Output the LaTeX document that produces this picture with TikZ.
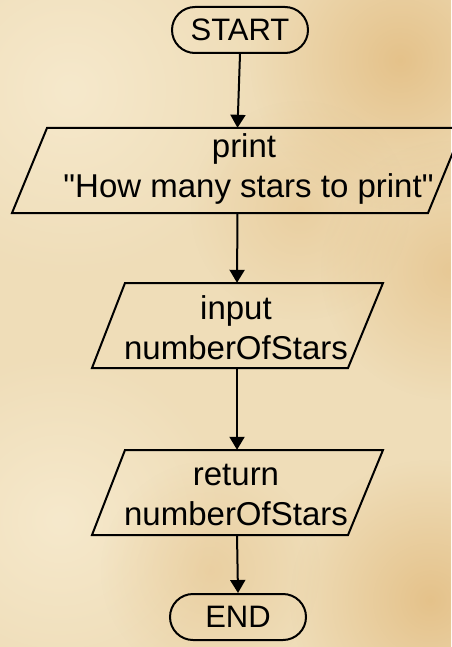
\documentclass[tikz,border=0pt]{standalone}
\usepackage{fontspec}
\setmainfont{Liberation Sans}
\usetikzlibrary{calc,arrows.meta,fadings}
\definecolor{paper}{RGB}{239,221,184}
\definecolor{paperlight}{RGB}{246,233,204}
\definecolor{blob}{RGB}{222,176,108}
\tikzfading[name=softblob, inner color=transparent!0, outer color=transparent!100]
\tikzset{
  flowline/.style={line width=2pt, draw=black},
  arr/.style={flowline, -{Triangle[length=13pt,width=15pt]}},
  term/.style={draw=black, line width=2pt, rounded corners=23pt, minimum width=136pt, minimum height=46pt, inner sep=0pt, font=\fontsize{31}{33}\selectfont},
  iobox/.style={draw=none, minimum height=85pt, inner sep=0pt},
  iotext/.style={align=center, inner sep=0pt, font=\fontsize{33}{40}\selectfont},
}
\begin{document}
\begin{tikzpicture}[x=1pt,y=-1pt]
\useasboundingbox (0,0) rectangle (451,647);
% background
\begin{scope}
\clip (0,0) rectangle (451,647);
\fill[paper] (0,0) rectangle (451,647);
\fill[paperlight, path fading=softblob] (70,90) circle (190);
\fill[paperlight, path fading=softblob] (60,520) circle (170);
\fill[blob, opacity=0.6, path fading=softblob] (400,60) circle (150);
\fill[blob, opacity=0.45, path fading=softblob] (450,270) circle (130);
\fill[blob, opacity=0.6, path fading=softblob] (430,600) circle (140);
\fill[blob, opacity=0.3, path fading=softblob] (300,210) circle (110);
\fill[blob, opacity=0.3, path fading=softblob] (210,570) circle (110);
\end{scope}
% nodes
\node[term] (start) at (240,30) {START};
\node[iobox, minimum width=416pt] (p1) at (237.5,170.5) {};
\node[iobox, minimum width=257pt] (p2) at (237,325.5) {};
\node[iobox, minimum width=257pt] (p3) at (237,492.5) {};
\node[term] (end) at (238,617) {END};
% parallelogram outlines
\draw[flowline] ($(p1.center)+(-190.5,-42.5)$) -- ($(p1.center)+(225.5,-42.5)$) -- ($(p1.center)+(190.5,42.5)$) -- ($(p1.center)+(-225.5,42.5)$) -- cycle;
\draw[flowline] ($(p2.center)+(-112,-42.5)$) -- ($(p2.center)+(146,-42.5)$) -- ($(p2.center)+(111,42.5)$) -- ($(p2.center)+(-145,42.5)$) -- cycle;
\draw[flowline] ($(p3.center)+(-112,-42.5)$) -- ($(p3.center)+(146,-42.5)$) -- ($(p3.center)+(111,42.5)$) -- ($(p3.center)+(-145,42.5)$) -- cycle;
% texts
\node[iotext] (t1) at (244,169) {print\\ \hspace*{9pt}\textquotedbl How many stars to print\textquotedbl};
\node[iotext] (t2) at (236,328) {input\\numberOfStars};
\node[iotext] (t3) at (236,495) {return\\numberOfStars};
% connectors
\draw[arr] (start.south) -- (p1.north);
\draw[arr] (p1.south) -- (p2.north);
\draw[arr] (p2.south) -- (p3.north);
\draw[arr] (p3.south) -- (end.north);
\end{tikzpicture}
\end{document}
